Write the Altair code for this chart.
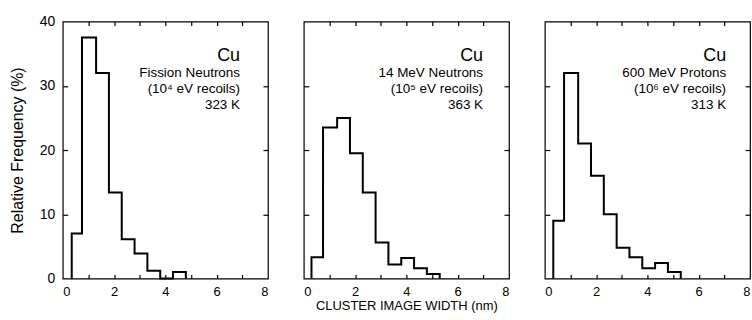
import altair as alt
import pandas as pd

# ---------------- data ----------------
x_label_values = [0, 2, 4, 6, 8]
y_label_values = [0, 10, 20, 30, 40]
x_minor_ticks = [1, 2, 3, 4, 5, 6, 7]
y_minor_ticks = [10, 20, 30]

fission_edges = [0.35, 0.75, 1.3, 1.8, 2.3, 2.8, 3.3, 3.8, 4.3, 4.8]
fission_freq = [7.0, 37.5, 32.0, 13.4, 6.1, 3.9, 1.2, 0.0, 1.0]

mev14_edges = [0.3, 0.75, 1.3, 1.8, 2.3, 2.8, 3.3, 3.8, 4.3, 4.8, 5.3]
mev14_freq = [3.3, 23.5, 25.0, 19.5, 13.4, 5.6, 2.2, 3.2, 1.6, 0.7]

proton_edges = [0.33, 0.75, 1.3, 1.8, 2.3, 2.8, 3.3, 3.8, 4.3, 4.8, 5.3]
proton_freq = [9.0, 32.0, 21.0, 16.0, 10.0, 4.8, 3.3, 1.6, 2.4, 1.0]

metal = "Cu"
fission_text = ["Fission Neutrons", "(10\u2074 eV recoils)", "323 K"]
mev14_text = ["14 MeV Neutrons", "(10\u2075 eV recoils)", "363 K"]
proton_text = ["600 MeV Protons", "(10\u2076 eV recoils)", "313 K"]

y_title = "Relative Frequency (%)"
x_title = "CLUSTER IMAGE WIDTH (nm)"

FONT = "Liberation Sans"
W, H = 206, 258


def step_table(edges, freq):
    xs = [edges[0]] + edges[:-1] + [edges[-1]]
    ys = [0.0] + freq + [0.0]
    return pd.DataFrame({"x": xs, "y": ys, "i": list(range(len(xs)))})


def panel(edges, freq, lines, text_x, first, xt):
    df = step_table(edges, freq)
    sx = alt.Scale(domain=[0, 8], nice=False, zero=False)
    sy = alt.Scale(domain=[0, 40], nice=False)
    base = alt.Chart(df)

    main = base.mark_line(interpolate="step-after", color="black",
                          strokeWidth=2).encode(
        x=alt.X("x:Q", scale=sx,
                axis=alt.Axis(orient="bottom", values=x_label_values, ticks=False,
                              tickSize=0, domain=False, grid=False, labelPadding=7,
                              labelFontSize=13, labelColor="black",
                              title=xt if xt else None, titleFontSize=13,
                              titleFontWeight="normal", titleColor="black",
                              titlePadding=1)),
        y=alt.Y("y:Q", scale=sy,
                axis=alt.Axis(orient="left", values=y_label_values, ticks=False,
                              tickSize=0, domain=False, grid=False, labels=first,
                              labelPadding=8, labelFontSize=14, labelColor="black",
                              title=y_title if first else None, titleFontSize=16,
                              titleFontWeight="normal", titleColor="black",
                              titlePadding=14)),
        order="i:Q",
    )

    # inward ticks at bottom (top axis pushed down) and left (right axis pushed left)
    ticks_bl = base.mark_line(strokeOpacity=0).encode(
        x=alt.X("x:Q", scale=sx,
                axis=alt.Axis(orient="top", offset=-H, values=x_minor_ticks,
                              labels=False, domain=False, grid=False, tickSize=4,
                              tickColor="black", tickWidth=1.2, title=None)),
        y=alt.Y("y:Q", scale=sy,
                axis=alt.Axis(orient="right", offset=-W, values=y_minor_ticks,
                              labels=False, domain=False, grid=False, tickSize=5,
                              tickColor="black", tickWidth=1.2, title=None)),
        order="i:Q",
    )
    # inward ticks at top (bottom axis pushed up) and right (left axis pushed right)
    ticks_tr = base.mark_line(strokeOpacity=0).encode(
        x=alt.X("x:Q", scale=sx,
                axis=alt.Axis(orient="bottom", offset=-H, values=x_minor_ticks,
                              labels=False, domain=False, grid=False, tickSize=4,
                              tickColor="black", tickWidth=1.2, title=None)),
        y=alt.Y("y:Q", scale=sy,
                axis=alt.Axis(orient="left", offset=-W, values=y_minor_ticks,
                              labels=False, domain=False, grid=False, tickSize=5,
                              tickColor="black", tickWidth=1.2, title=None)),
        order="i:Q",
    )

    tdf = pd.DataFrame({"metal": [metal]})
    cu = alt.Chart(tdf).mark_text(align="right", baseline="middle", fontSize=18,
                                  font=FONT, color="black").encode(
        x=alt.value(text_x), y=alt.value(35), text=alt.Text("metal:N"))
    info = alt.Chart(tdf).mark_text(align="right", baseline="middle", fontSize=13.5,
                                    lineHeight=16, font=FONT, color="black").encode(
        x=alt.value(text_x), y=alt.value(52), text=alt.value(lines))

    return alt.layer(main, ticks_bl, ticks_tr, cu, info).resolve_axis(
        x="independent", y="independent").properties(width=W, height=H)


p1 = panel(fission_edges, fission_freq, fission_text, 178, True, None)
p2 = panel(mev14_edges, mev14_freq, mev14_text, 180, False, x_title)
p3 = panel(proton_edges, proton_freq, proton_text, 182, False, None)

chart = alt.hconcat(p1, p2, p3, spacing=36, bounds="flush").properties(
    padding={"left": 8, "top": 13, "right": 0, "bottom": 0},
    background="white",
).configure(
    font=FONT,
    view=alt.ViewConfig(stroke="black", strokeWidth=1.2),
)

chart.save("out.html", embed_options={"renderer": "svg", "actions": False})
